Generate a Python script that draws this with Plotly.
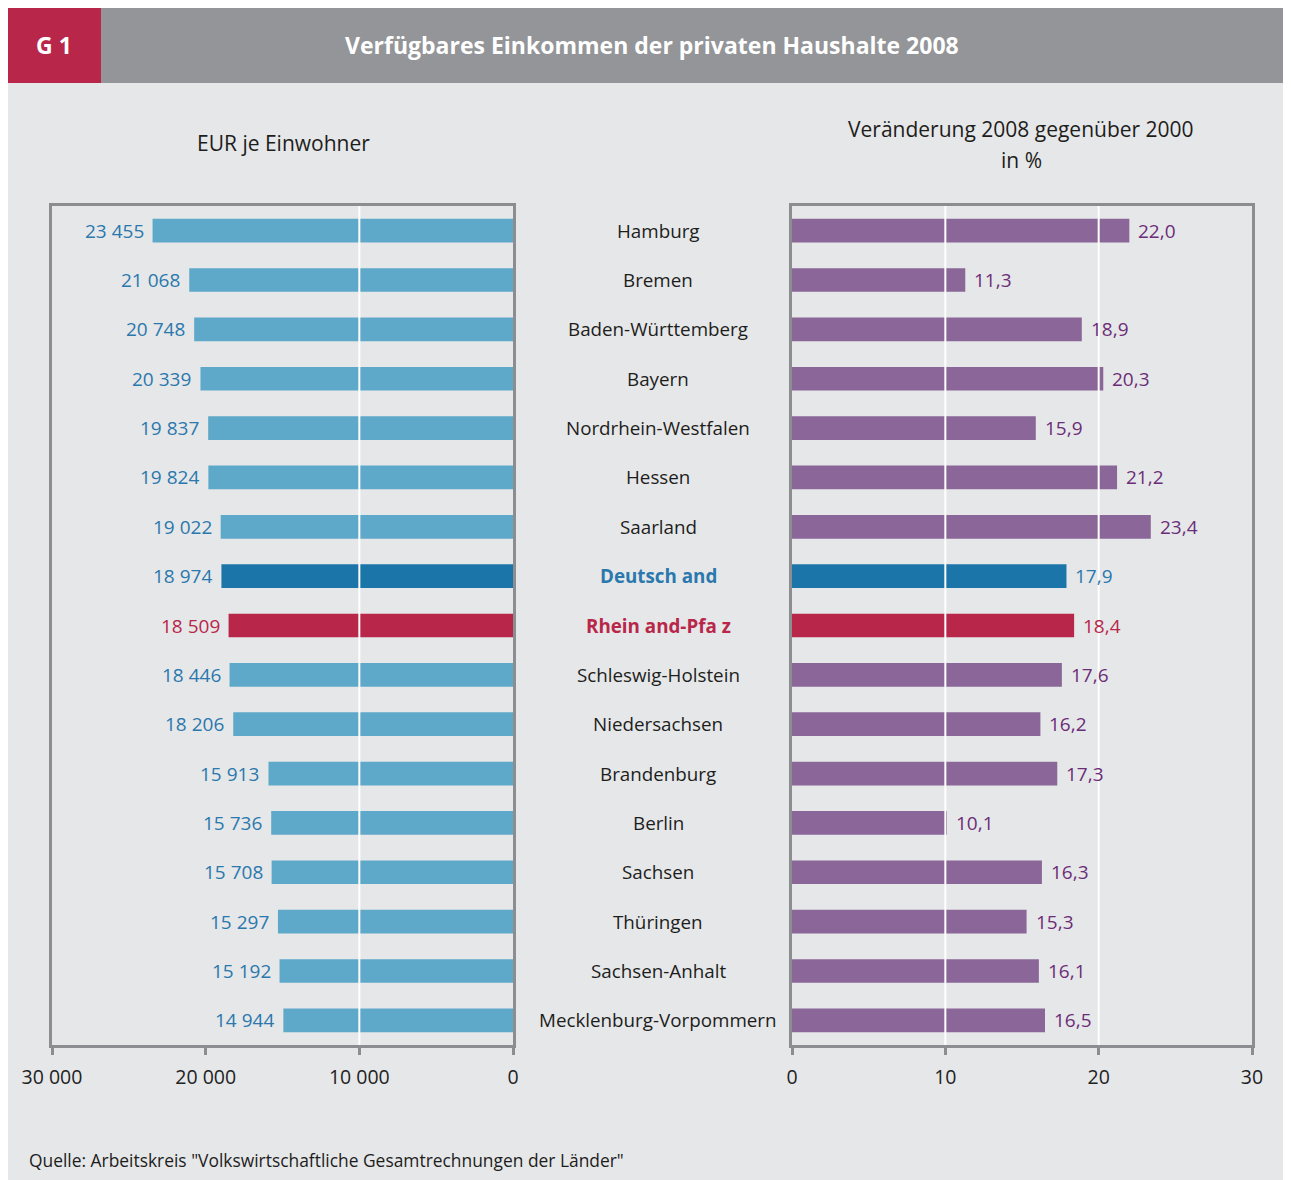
import plotly.graph_objects as go

W, H = 1291, 1180

laender = ["Hamburg", "Bremen", "Baden-Württemberg", "Bayern", "Nordrhein-Westfalen",
           "Hessen", "Saarland", "Deutsch and", "Rhein and-Pfa z", "Schleswig-Holstein",
           "Niedersachsen", "Brandenburg", "Berlin", "Sachsen", "Thüringen",
           "Sachsen-Anhalt", "Mecklenburg-Vorpommern"]
eur_je_einwohner = [23455, 21068, 20748, 20339, 19837, 19824, 19022, 18974, 18509,
                    18446, 18206, 15913, 15736, 15708, 15297, 15192, 14944]
veraenderung_pct = [22.0, 11.3, 18.9, 20.3, 15.9, 21.2, 23.4, 17.9, 18.4,
                    17.6, 16.2, 17.3, 10.1, 16.3, 15.3, 16.1, 16.5]
left_ticks = [30000, 20000, 10000, 0]
right_ticks = [0, 10, 20, 30]

FONT = "Open Sans"
RED = "#b8274a"
DBLUE = "#1b75a9"
LBLUE = "#5ea9c9"
BLUE_TXT = "#2a78ad"
PURPLE = "#8a6798"
PURPLE_TXT = "#6c2d78"
GRAYLINE = "#8c8d90"
BG = "#e6e7e9"
DE, RP = "Deutsch and", "Rhein and-Pfa z"
OFF = 8  # page body margin offset

def bar_col(name, normal):
    return DBLUE if name == DE else RED if name == RP else normal

def txt_col(name, normal):
    return BLUE_TXT if name == DE else RED if name == RP else normal

left_colors = [bar_col(n, LBLUE) for n in laender]
right_colors = [bar_col(n, PURPLE) for n in laender]

fig = go.Figure()
fig.add_trace(go.Bar(
    x=eur_je_einwohner, y=laender, orientation="h", xaxis="x", yaxis="y",
    marker=dict(color=left_colors, line=dict(width=0)), width=0.48,
    hoverinfo="skip", showlegend=False))
fig.add_trace(go.Bar(
    x=veraenderung_pct, y=laender, orientation="h", xaxis="x2", yaxis="y2",
    marker=dict(color=right_colors, line=dict(width=0)), width=0.48,
    hoverinfo="skip", showlegend=False))

def px_x(p):
    return (p - OFF) / W

def px_y(p):
    return 1 - (p - OFF) / H

ytop, ybot = px_y(206), px_y(1045)

axis_common = dict(showline=True, linecolor=GRAYLINE, linewidth=2.5, mirror=True,
                   ticks="outside", ticklen=7, tickwidth=2.5, tickcolor=GRAYLINE,
                   showgrid=False, zeroline=False, ticklabelstandoff=6, automargin=False,
                   tickfont=dict(family=FONT, size=19.5, color="#222222"), fixedrange=True)
yaxis_common = dict(showline=True, linecolor=GRAYLINE, linewidth=2.5, mirror=True,
                    showticklabels=False, ticks="", showgrid=False, zeroline=False,
                    automargin=False,
                    categoryorder="array", categoryarray=laender, autorange="reversed",
                    domain=[ybot, ytop], fixedrange=True)

fig.update_layout(
    template="none",
    width=W, height=H, margin=dict(l=0, r=0, t=0, b=0, pad=0), autosize=False,
    paper_bgcolor=BG, plot_bgcolor=BG, separators=", ",
    font=dict(family=FONT, color="#1d1d1b"),
    xaxis=dict(domain=[px_x(52), px_x(513)], range=[30000, 0], tickvals=left_ticks,
               tickformat=",.0f", anchor="y", **axis_common),
    xaxis2=dict(domain=[px_x(792), px_x(1252)], range=[0, 30], tickvals=right_ticks,
                anchor="y2", **axis_common),
    yaxis=dict(anchor="x", **yaxis_common),
    yaxis2=dict(anchor="x2", **yaxis_common),
)

shapes = [
    dict(type="rect", xref="paper", yref="paper", x0=px_x(0), x1=px_x(1299),
         y0=px_y(7), y1=px_y(0), fillcolor="white", line=dict(width=0), layer="below"),
    dict(type="rect", xref="paper", yref="paper", x0=px_x(0), x1=px_x(7),
         y0=px_y(1190), y1=px_y(0), fillcolor="white", line=dict(width=0), layer="below"),
    dict(type="rect", xref="paper", yref="paper", x0=px_x(7), x1=px_x(101),
         y0=px_y(83), y1=px_y(7), fillcolor=RED, line=dict(width=0), layer="below"),
    dict(type="rect", xref="paper", yref="paper", x0=px_x(101), x1=px_x(1299),
         y0=px_y(83), y1=px_y(7), fillcolor="#939598", line=dict(width=0), layer="below"),
]
for v in [10000]:
    shapes.append(dict(type="line", xref="x", yref="y domain", x0=v, x1=v, y0=0, y1=1,
                       line=dict(color="white", width=2), layer="above"))
for v in [10, 20]:
    shapes.append(dict(type="line", xref="x2", yref="y2 domain", x0=v, x1=v, y0=0, y1=1,
                       line=dict(color="white", width=2), layer="above"))
fig.update_layout(shapes=shapes)

ann = [
    dict(text="<b>G 1</b>", x=px_x(54), y=px_y(45), font=dict(size=23, color="white")),
    dict(text="<b>Verfügbares Einkommen der privaten Haushalte 2008</b>", x=px_x(652),
         y=px_y(45), font=dict(size=23, color="white")),
    dict(text="EUR je Einwohner", x=px_x(283), y=px_y(143), font=dict(size=21)),
    dict(text="Veränderung 2008 gegenüber 2000", x=px_x(1021), y=px_y(129),
         font=dict(size=21)),
    dict(text="in %", x=px_x(1021), y=px_y(160), font=dict(size=21)),
    dict(text='Quelle: Arbeitskreis "Volkswirtschaftliche Gesamtrechnungen der Länder"',
         x=px_x(27), y=px_y(1160), xanchor="left", font=dict(size=17.4)),
]
for n in laender:
    if n == DE:
        t, c = f"<b>{n}</b>", BLUE_TXT
    elif n == RP:
        t, c = f"<b>{n}</b>", RED
    else:
        t, c = n, "#1d1d1b"
    ann.append(dict(text=t, x=px_x(658), xref="paper", y=n, yref="y",
                    font=dict(size=18.8, color=c)))
for n, v in zip(laender, eur_je_einwohner):
    ann.append(dict(text=f"{v:,}".replace(",", " "), x=v, xref="x", y=n, yref="y",
                    xanchor="right", xshift=-7, font=dict(size=19, color=txt_col(n, BLUE_TXT))))
for n, v in zip(laender, veraenderung_pct):
    ann.append(dict(text=f"{v:.1f}".replace(".", ","), x=v, xref="x2", y=n, yref="y2",
                    xanchor="left", xshift=7, font=dict(size=19, color=txt_col(n, PURPLE_TXT))))
for a in ann:
    a.setdefault("xref", "paper")
    a.setdefault("yref", "paper")
    a.setdefault("xanchor", "center")
    a.setdefault("yanchor", "middle")
    a["showarrow"] = False
    a["font"]["family"] = FONT
fig.update_layout(annotations=ann)

fig.write_html("out.html")
